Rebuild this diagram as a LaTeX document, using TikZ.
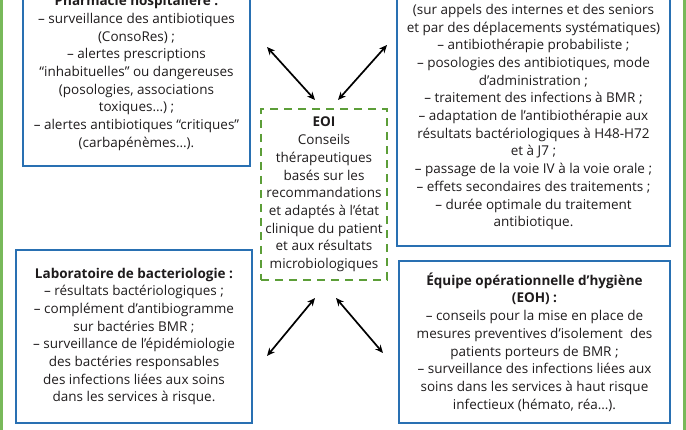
\documentclass[tikz,border=0pt]{standalone}
\usepackage{fontspec}
\setmainfont{Open Sans}
\usetikzlibrary{arrows.meta}
\definecolor{boxblue}{RGB}{41,112,178}
\definecolor{eoigreen}{RGB}{92,158,56}
\definecolor{framegreen}{RGB}{120,185,90}
\definecolor{txt}{RGB}{30,27,28}
\tikzset{
  info/.style={draw=boxblue, line width=2.2pt, align=center, text=txt, inner sep=2pt,
    font=\fontsize{13.5}{17.7}\selectfont},
  eoibox/.style={draw=eoigreen, line width=2pt, dash pattern=on 8pt off 6pt, align=center,
    text=txt, inner sep=2pt, font=\fontsize{13.5}{17.7}\selectfont},
  link/.style={<->, >={Stealth[length=8pt,width=7pt]}, line width=1.7pt, black}
}
\begin{document}
\begin{tikzpicture}[x=1pt,y=-1pt]
\useasboundingbox (0,0) rectangle (686,430);
\draw[framegreen, line width=2.5pt] (1.5,-20) rectangle (684.5,450);

\node[info, minimum width=227pt, minimum height=186pt] (pharma) at (136.5,73)
{\textbf{Pharmacie hospitalière :}\\
– surveillance des antibiotiques\\
(ConsoRes) ;\\
– alertes prescriptions\\
“inhabituelles” ou dangereuses\\
(posologies, associations\\
toxiques…) ;\\
– alertes antibiotiques “critiques”\\
(carbapénèmes…).};

\node[info, minimum width=273pt, minimum height=258pt] (infect) at (533.5,117)
{(sur appels des internes et des seniors\\
et par des déplacements systématiques)\\
– antibiothérapie probabiliste ;\\
– posologies des antibiotiques, mode\\
d’administration ;\\
– traitement des infections à BMR ;\\
– adaptation de l’antibiothérapie aux\\
résultats bactériologiques à H48-H72\\
et à J7 ;\\
– passage de la voie IV à la voie orale ;\\
– effets secondaires des traitements ;\\
– durée optimale du traitement\\
antibiotique.};

\node[info, minimum width=236pt, minimum height=173pt] (labo) at (134,336.5)
{\textbf{Laboratoire de bacteriologie :}\\
– résultats bactériologiques ;\\
– complément d’antibiogramme\\
sur bactéries BMR ;\\
– surveillance de l’épidémiologie\\
des bactéries responsables\\
des infections liées aux soins\\
dans les services à risque.};

\node[info, minimum width=271pt, minimum height=162pt] (eoh) at (534.5,342)
{\textbf{Équipe opérationnelle d’hygiène}\\
\textbf{(EOH) :}\\
– conseils pour la mise en place de\\
mesures preventives d’isolement\ \ des\\
patients porteurs de BMR ;\\
– surveillance des infections liées aux\\
soins dans les services à haut risque\\
infectieux (hémato, réa…).};

\node[eoibox, minimum width=126pt, minimum height=171pt] (eoi) at (324,194.5)
{\textbf{EOI}\\
Conseils\\
thérapeutiques\\
basés sur les\\
recommandations\\
et adaptés à l’état\\
clinique du patient\\
et aux résultats\\
microbiologiques};

\coordinate (p1) at (267,47);  \coordinate (e1) at (315,100);
\coordinate (p2) at (387,45);  \coordinate (e2) at (338,100);
\coordinate (e3) at (315,298); \coordinate (p3) at (267,356);
\coordinate (e4) at (336,298); \coordinate (p4) at (383,353);
\draw[link] (p1) -- (e1);
\draw[link] (p2) -- (e2);
\draw[link] (e3) -- (p3);
\draw[link] (e4) -- (p4);
\end{tikzpicture}
\end{document}
